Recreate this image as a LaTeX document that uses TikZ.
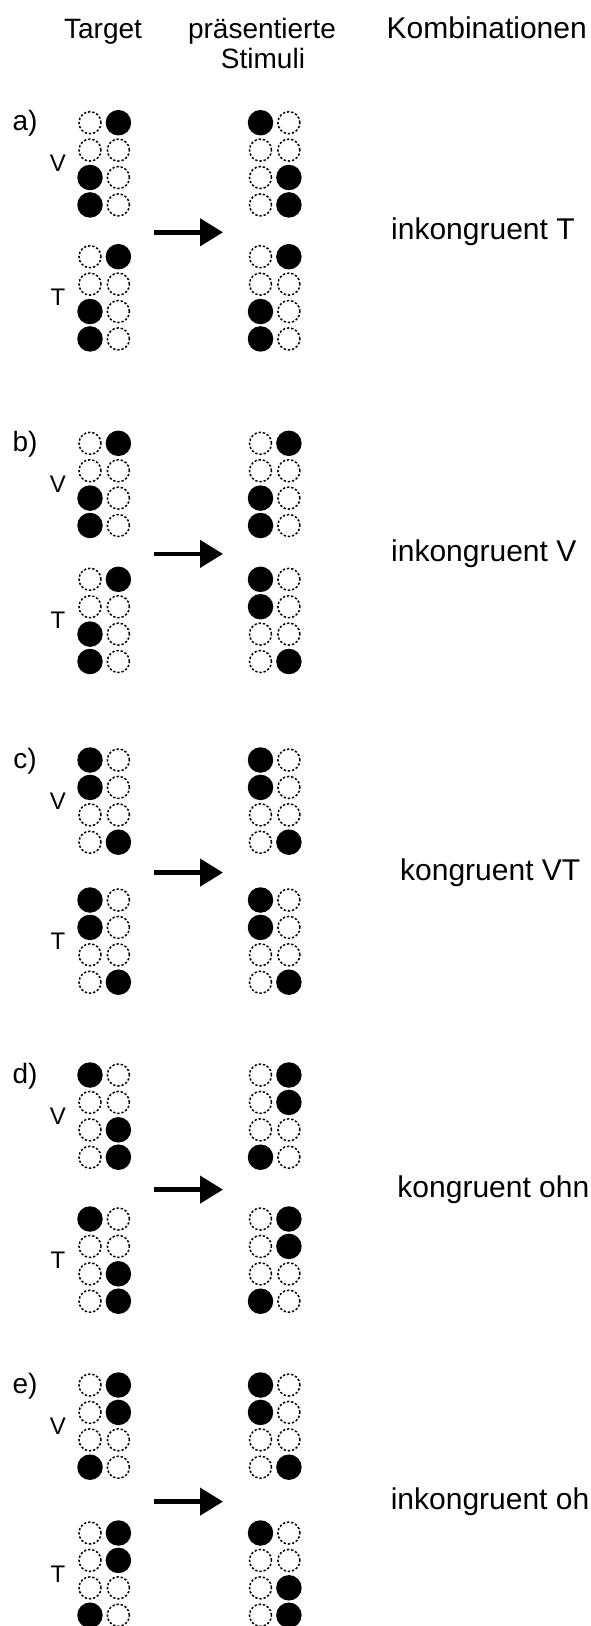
\documentclass[tikz,border=0pt]{standalone}
\usepackage{fontspec}
\setmainfont{Liberation Sans}
\usetikzlibrary{arrows.meta}

\tikzset{
  dot0/.style={circle, draw=black, line width=1.5pt,
    dash pattern=on 2.3pt off 1.9pt, minimum size=22pt, inner sep=0pt},
  dot1/.style={circle, fill=black, minimum size=25.5pt, inner sep=0pt},
  big/.style={font=\fontsize{28}{33}\selectfont, inner sep=0pt},
  combi/.style={font=\fontsize{30}{35}\selectfont, inner sep=0pt},
  small/.style={font=\fontsize{24}{29}\selectfont, inner sep=0pt},
  arr/.style={line width=4.5pt, -{Triangle[length=23pt,width=27pt]}},
}

% one 4x2 cell of dots: name, x of left column, y of top row, list l/r
\newcommand\cellgrid[4]{%
  \foreach \l/\r [count=\i] in {#4} {
    \node[dot\l] (#1-\i-l) at ({#2},{#3+27.4*(\i-1)}) {};
    \node[dot\r] (#1-\i-r) at ({#2+28.4},{#3+27.4*(\i-1)}) {};
  }%
}

% one trial: tag, y of first row, V target, T target, V stimulus,
% T stimulus, offset of the T block, text placement, combination text
\newcommand\trial[9]{%
  \node[big, anchor=base] (#1-tag) at (25,{#2+8}) {#1)};
  \node[small, anchor=base] (#1-v) at (58,{#2+49}) {V};
  \node[small, anchor=base] (#1-t) at (58,{#2+#7+49}) {T};
  \cellgrid{#1-vt}{90}{#2}{#3}
  \cellgrid{#1-tt}{90}{#2+#7}{#4}
  \cellgrid{#1-vs}{260.5}{#2}{#5}
  \cellgrid{#1-ts}{260.5}{#2+#7}{#6}
  \coordinate (#1-a0) at (154,{#2+(82.2+#7)/2+1.5});
  \coordinate (#1-a1) at (223,{#2+(82.2+#7)/2+1.5});
  \draw[arr] (#1-a0) -- (#1-a1);
  \node[combi, #8] (#1-txt) at (#1-a1 |- 0,{#2+(82.2+#7)/2+9}) {#9};
}

\begin{document}
\begin{tikzpicture}[x=1pt,y=-1pt]
  \useasboundingbox (0,0) rectangle (590,1626);
  \clip (0,0) rectangle (590,1626);

  \node[big, anchor=base] (h1) at (103,38) {Target};
  \node[big, anchor=base] (h2) at (262,38) {präsentierte};
  \node[big, anchor=base] (h3) at (263,68) {Stimuli};
  \node[combi, anchor=base east] (h4) at (587,38) {Kombinationen};

  \trial{a}{122.7}{0/1,0/0,1/0,1/0}{0/1,0/0,1/0,1/0}
        {1/0,0/0,0/1,0/1}{0/1,0/0,1/0,1/0}{134}
        {anchor=base west, xshift=168pt}{inkongruent T}
  \trial{b}{443.3}{0/1,0/0,1/0,1/0}{0/1,0/0,1/0,1/0}
        {0/1,0/0,1/0,1/0}{1/0,1/0,0/0,0/1}{136}
        {anchor=base west, xshift=168pt}{inkongruent V}
  \trial{c}{760}{1/0,1/0,0/0,0/1}{1/0,1/0,0/0,0/1}
        {1/0,1/0,0/0,0/1}{1/0,1/0,0/0,0/1}{140}
        {anchor=base west, xshift=177pt}{kongruent VT}
  \trial{d}{1075}{1/0,0/0,0/1,0/1}{1/0,0/0,0/1,0/1}
        {0/1,0/1,0/0,1/0}{0/1,0/1,0/0,1/0}{144}
        {anchor=base east, xshift=366.5pt}{kongruent ohn}
  \trial{e}{1385}{0/1,0/1,0/0,1/0}{0/1,0/1,0/0,1/0}
        {1/0,1/0,0/0,0/1}{1/0,0/0,0/1,0/1}{148}
        {anchor=base east, xshift=366.5pt}{inkongruent oh}
\end{tikzpicture}
\end{document}
